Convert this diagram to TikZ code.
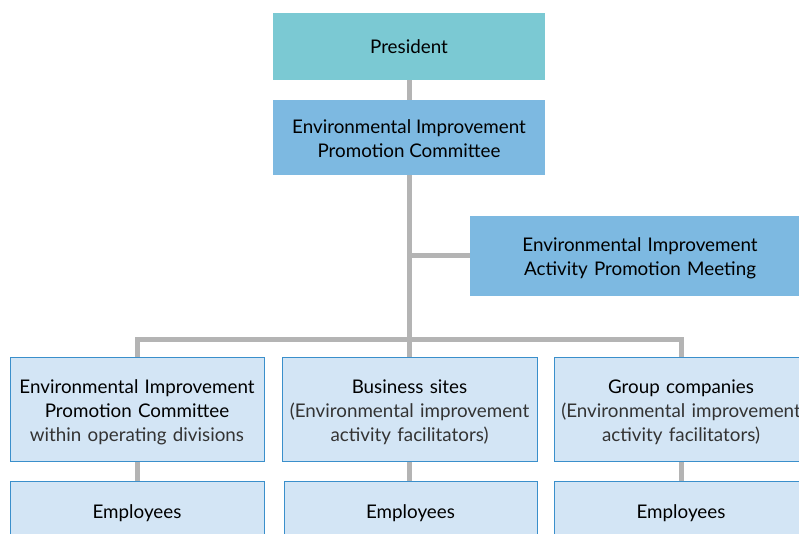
\documentclass[tikz,border=0pt]{standalone}
\usepackage{fontspec}
\setmainfont{Lato}
\usetikzlibrary{positioning}
\definecolor{teal1}{HTML}{7BC9D3}
\definecolor{blue1}{HTML}{7DB9E1}
\definecolor{pale1}{HTML}{D3E5F5}
\definecolor{edge1}{HTML}{3A8FCB}
\definecolor{gray1}{HTML}{B4B4B4}
\definecolor{sub1}{HTML}{333333}
\newcommand\mystrut[1]{\rule{0pt}{#1}}
\tikzset{
  topbox/.style={fill=#1, draw=none, align=center, inner sep=0pt, font=\fontsize{18.8}{24}\selectfont, text=black},
  lowbox/.style={fill=pale1, draw=edge1, line width=1pt, align=center, inner sep=0pt, font=\fontsize{18.8}{24}\selectfont, text=black},
  link/.style={draw=gray1, line width=5pt}
}
\begin{document}
\begin{tikzpicture}[x=1pt,y=-1pt]
\useasboundingbox (0,0) rectangle (799,534);
\clip (0,0) rectangle (799,534);
\node[topbox=teal1, minimum width=272pt, minimum height=67pt] (pres) at (409,46.5) {President};
\node[topbox=blue1, minimum width=272pt, minimum height=75pt] (eipc) at (409,137.5) {\mystrut{16pt}Environmental Improvement\\Promotion Committee};
\node[topbox=blue1, minimum width=340pt, minimum height=80pt, text width=340pt] (meet) at (640,256) {\mystrut{18pt}Environmental Improvement\\Activity Promotion Meeting};
\node[lowbox, minimum width=254pt, minimum height=104pt, text width=254pt] (b1) at (137,409) {\mystrut{20pt}Environmental Improvement\\Promotion Committee\\{\color{sub1}within operating divisions}};
\node[lowbox, minimum width=255pt, minimum height=104pt, text width=255pt] (b2) at (409.5,409) {\mystrut{20pt}Business sites\\{\color{sub1}(Environmental improvement}\\{\color{sub1}activity facilitators)}};
\node[lowbox, minimum width=254pt, minimum height=104pt, text width=254pt] (b3) at (681,409) {\mystrut{20pt}Group companies\\{\color{sub1}(Environmental improvement}\\{\color{sub1}activity facilitators)}};
\node[lowbox, minimum width=254pt, minimum height=60pt] (e1) at (137,511) {\mystrut{18pt}Employees};
\node[lowbox, minimum width=253pt, minimum height=60pt] (e2) at (410.5,511) {\mystrut{18pt}Employees};
\node[lowbox, minimum width=254pt, minimum height=60pt] (e3) at (681,511) {\mystrut{18pt}Employees};
\coordinate (bar) at (409,339);
\path[link] (pres.south) -- (eipc.north);
\path[link] (eipc.south) -- (eipc.south |- b2.north);
\path[link] (eipc.south |- meet.west) -- (meet.west);
\path[link] (b1.north) |- (bar) -| (b3.north);
\path[link] (b1.south) -- (e1.north);
\path[link] (b2.south -| eipc.south) -- (e2.north -| eipc.south);
\path[link] (b3.south) -- (e3.north);
\end{tikzpicture}
\end{document}
